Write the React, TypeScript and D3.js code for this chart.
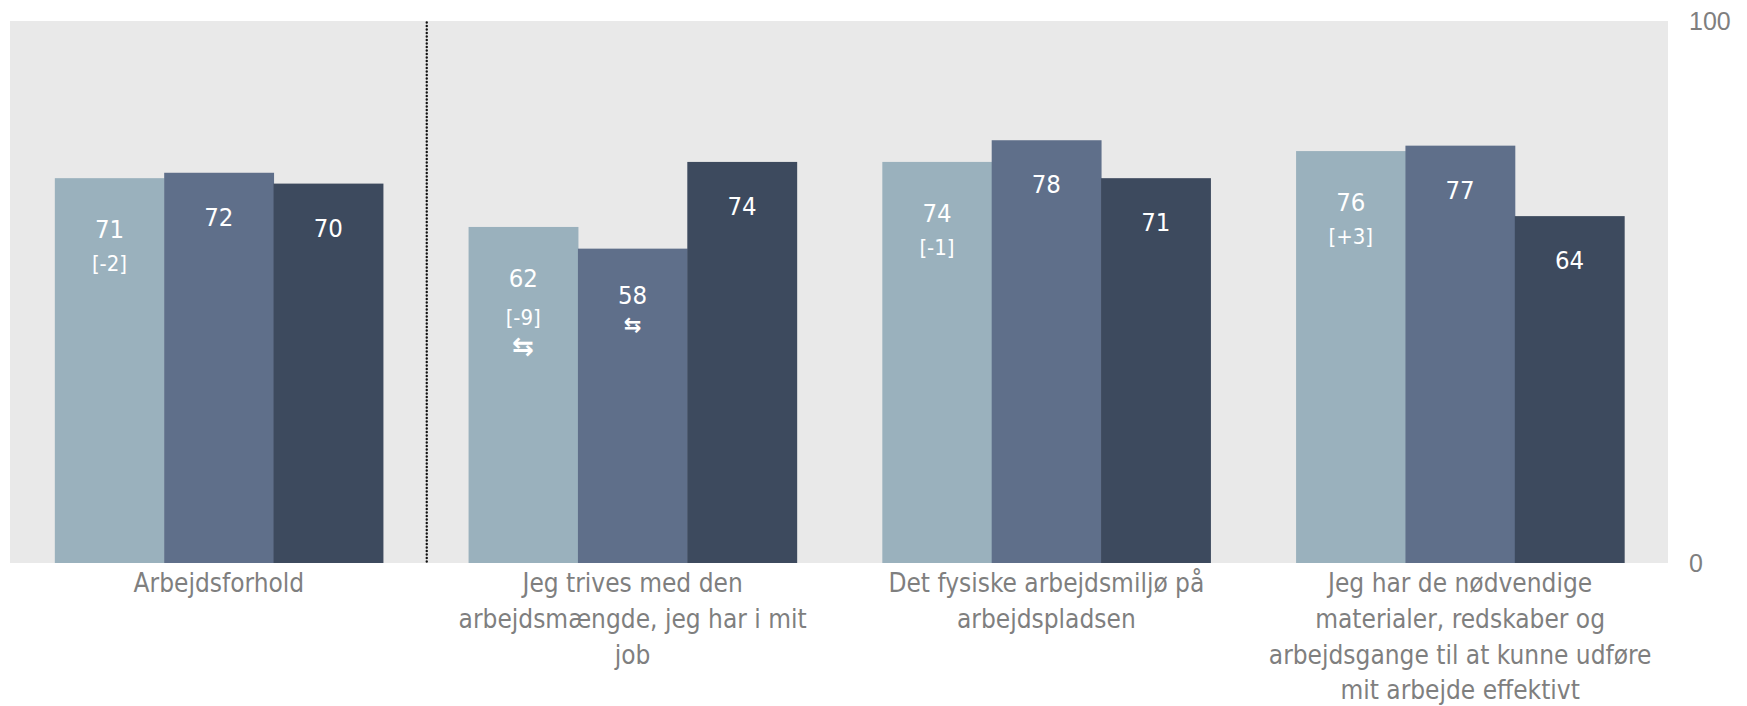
import React from "react";
import * as d3 from "d3";

const categories: string[][] = [
  ["Arbejdsforhold"],
  ["Jeg trives med den", "arbejdsmængde, jeg har i mit", "job"],
  ["Det fysiske arbejdsmiljø på", "arbejdspladsen"],
  ["Jeg har de nødvendige", "materialer, redskaber og", "arbejdsgange til at kunne udføre", "mit arbejde effektivt"],
];
const seriesNames = ["s1", "s2", "s3"];
const series1 = [71, 62, 74, 76];
const series2 = [72, 58, 78, 77];
const series3 = [70, 74, 71, 64];
const diff1: (string | null)[] = ["[-2]", "[-9]", "[-1]", "[+3]"];
const diff2: (string | null)[] = [null, null, null, null];
const diff3: (string | null)[] = [null, null, null, null];
const arrow1 = [false, true, false, false];
const arrow2 = [false, true, false, false];
const arrow3 = [false, false, false, false];
const yTicks = [0, 100];

const colors = ["#9AB1BD", "#5F6F8A", "#3D4A5E"];
const W = 1747;
const H = 706;
const plot = { left: 10, right: 1668, top: 21, bottom: 563 };
const FONT = "'DejaVu Sans Condensed', 'DejaVu Sans', sans-serif";

export default function App() {
  const values = [series1, series2, series3];
  const diffs = [diff1, diff2, diff3];
  const arrows = [arrow1, arrow2, arrow3];
  const catKeys = categories.map((c) => c.join(" "));

  const x0 = d3
    .scaleBand<string>()
    .domain(catKeys)
    .range([12, 1667])
    .paddingInner(0.207)
    .paddingOuter(0.1035);
  const x1 = d3.scaleBand<string>().domain(seriesNames).range([0, x0.bandwidth()]).padding(0);
  const y = d3.scaleLinear().domain([0, 100]).range([plot.bottom, plot.top]);
  const step = x0.step();
  const sepX = (x0(catKeys[0]) as number) + x0.bandwidth() + (step - x0.bandwidth()) / 2 + 1;

  return (
    <svg width={W} height={H} style={{ position: "absolute", left: 0, top: 0, background: "#fff" }}>
      <rect x={plot.left} y={plot.top} width={plot.right - plot.left} height={plot.bottom - plot.top} fill="#E9E9E9" />
      <line
        x1={sepX}
        x2={sepX}
        y1={plot.top + 1.5}
        y2={plot.bottom}
        stroke="#111"
        strokeWidth={2.4}
        strokeLinecap="round"
        strokeDasharray="0 3.5"
      />
      {catKeys.map((ck, ci) => (
        <g key={ck} transform={`translate(${x0(ck)},0)`}>
          {seriesNames.map((s, si) => {
            const v = values[si][ci];
            const bx = x1(s) as number;
            const bw = x1.bandwidth();
            const top = y(v);
            const cx = bx + bw / 2;
            const sub = diffs[si][ci];
            const arr = arrows[si][ci];
            const mainBase = top + 53 + (sub ? 7 : 0) + (arr && !sub ? 2 : 0);
            const subBase = mainBase + (arr ? 38 : 33);
            const arrowCenter = (sub ? subBase : mainBase) + 21;
            return (
              <g key={s}>
                <rect x={bx} y={top} width={bw + 0.5} height={y(0) - top} fill={colors[si]} />
                <text x={cx} y={mainBase} textAnchor="middle" fill="#fff" fontFamily={FONT} fontSize={25.5}>
                  {v}
                </text>
                {sub && (
                  <text x={cx} y={subBase} textAnchor="middle" fill="#fff" fontFamily={FONT} fontSize={22}>
                    {sub}
                  </text>
                )}
                {arr && (
                  <text
                    x={cx}
                    y={arrowCenter}
                    dy="0.35em"
                    textAnchor="middle"
                    fill="#fff"
                    fontFamily="'DejaVu Sans', sans-serif"
                    fontWeight="bold"
                    fontSize={sub ? 26 : 21}
                  >
                    ⇆
                  </text>
                )}
              </g>
            );
          })}
          <text x={x0.bandwidth() / 2} y={592} textAnchor="middle" fill="#7F7F7F" fontFamily={FONT} fontSize={26}>
            {categories[ci].map((line, li) => (
              <tspan key={li} x={x0.bandwidth() / 2} y={592 + li * 35.8}>
                {line}
              </tspan>
            ))}
          </text>
        </g>
      ))}
      {yTicks.map((t) => (
        <text
          key={t}
          x={1689}
          y={y(t)}
          dy="0.35em"
          fill="#7F7F7F"
          fontFamily="'Liberation Sans', Arial, sans-serif"
          fontSize={25}
        >
          {t}
        </text>
      ))}
    </svg>
  );
}
